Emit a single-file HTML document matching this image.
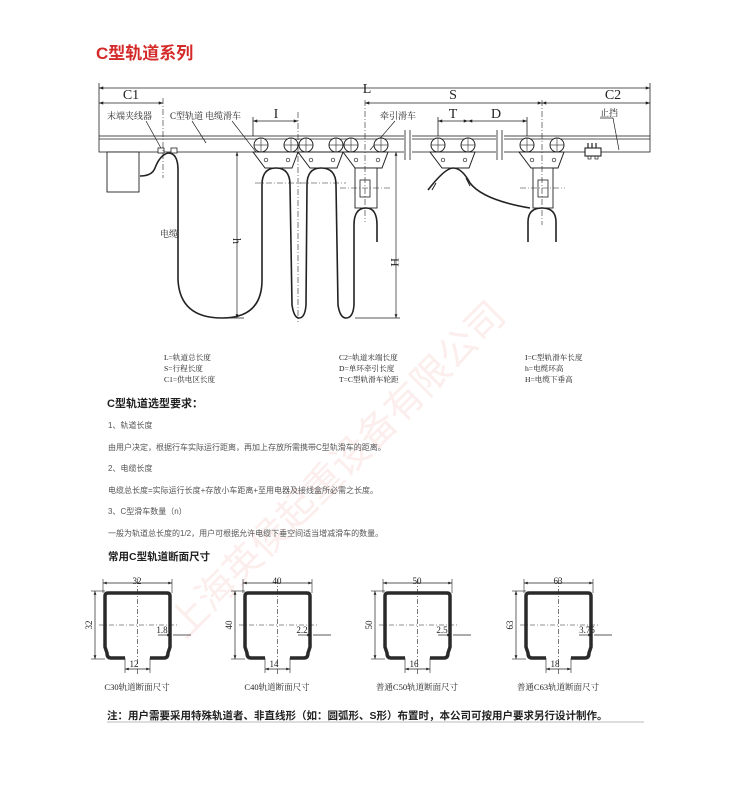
<!DOCTYPE html>
<html><head><meta charset="utf-8"><style>
html,body{margin:0;padding:0;background:#fff}
svg{display:block}
.t{font-family:"Liberation Serif","Noto Serif CJK SC",serif;fill:#222}
.s{font-family:"Liberation Sans","Noto Sans CJK SC",sans-serif}
</style></head><body>
<svg width="750" height="810" viewBox="0 0 750 810" xmlns="http://www.w3.org/2000/svg">
<defs>
<marker id="a" viewBox="0 0 8 6" refX="8" refY="3" markerWidth="6" markerHeight="4" orient="auto-start-reverse"><path d="M0,0 L8,3 L0,6z" fill="#222"/></marker>
<g id="tr">
<path d="M0,152 L45,152 L39,168 L12,168 Z" fill="#fff" stroke="#222" stroke-width="1"/>
<circle cx="8" cy="145" r="7" fill="#fff" stroke="#222"/><circle cx="38" cy="145" r="7" fill="#fff" stroke="#222"/>
<line x1="8" y1="138" x2="8" y2="152" stroke="#222" stroke-width=".6"/><line x1="1" y1="145" x2="15" y2="145" stroke="#222" stroke-width=".6"/>
<line x1="38" y1="138" x2="38" y2="152" stroke="#222" stroke-width=".6"/><line x1="31" y1="145" x2="45" y2="145" stroke="#222" stroke-width=".6"/>
<circle cx="13" cy="160" r="1.8" fill="none" stroke="#222" stroke-width=".7"/><circle cx="35" cy="160" r="1.8" fill="none" stroke="#222" stroke-width=".7"/>
</g>
<g id="pf">
<path d="M22,67 L8,67 Q4,67 4,62 L2,56 L2,5 Q2,2 5,2 L64,2 Q67,2 67,5 L67,56 L65,62 Q65,67 61,67 L47,67" fill="none" stroke="#2a2a2a" stroke-width="3.5"/>
<line x1="0" y1="-8" x2="69" y2="-8" stroke="#222" stroke-width=".7" marker-start="url(#a)" marker-end="url(#a)"/>
<line x1="0" y1="-12" x2="0" y2="2" stroke="#222" stroke-width=".6"/><line x1="69" y1="-12" x2="69" y2="2" stroke="#222" stroke-width=".6"/>
<line x1="-8" y1="0" x2="-8" y2="68" stroke="#222" stroke-width=".7" marker-start="url(#a)" marker-end="url(#a)"/>
<line x1="-12" y1="0" x2="2" y2="0" stroke="#222" stroke-width=".6"/><line x1="-12" y1="68" x2="2" y2="68" stroke="#222" stroke-width=".6"/>
<line x1="34.5" y1="-12" x2="34.5" y2="84" stroke="#222" stroke-width=".6" stroke-dasharray="5,2,1,2"/>
<line x1="-4" y1="34" x2="76" y2="34" stroke="#222" stroke-width=".6" stroke-dasharray="5,2,1,2"/>
<line x1="22" y1="67" x2="22" y2="82" stroke="#222" stroke-width=".6"/><line x1="47" y1="67" x2="47" y2="82" stroke="#222" stroke-width=".6"/>
<line x1="22" y1="78" x2="47" y2="78" stroke="#222" stroke-width=".7" marker-start="url(#a)" marker-end="url(#a)"/>
<line x1="55" y1="44" x2="68" y2="44" stroke="#222" stroke-width=".7" marker-end="url(#a)"/>
<line x1="70" y1="44" x2="88" y2="44" stroke="#222" stroke-width=".7"/>
</g>
</defs>

<text x="96" y="59" class="s" font-size="17" font-weight="bold" fill="#d42a2a">C型轨道系列</text>

<!-- watermark -->
<text x="0" y="0" transform="translate(185,640) rotate(-45)" class="s" font-size="38" fill="#fbeeec">上海英侯起重设备有限公司</text>

<g stroke="#222" stroke-width=".8" fill="none">
<line x1="99" y1="88" x2="650" y2="88" marker-start="url(#a)" marker-end="url(#a)"/>
<line x1="99" y1="83" x2="99" y2="136"/><line x1="650" y1="83" x2="650" y2="136"/>
<line x1="99" y1="103" x2="163" y2="103" marker-start="url(#a)" marker-end="url(#a)"/>
<line x1="365" y1="103" x2="542" y2="103" marker-start="url(#a)" marker-end="url(#a)"/>
<line x1="542" y1="103" x2="650" y2="103" marker-start="url(#a)" marker-end="url(#a)"/>
<line x1="253" y1="121" x2="298" y2="121" marker-start="url(#a)" marker-end="url(#a)"/>
<line x1="253" y1="117" x2="253" y2="150"/>
<line x1="438" y1="121" x2="468" y2="121" marker-start="url(#a)" marker-end="url(#a)"/>
<line x1="468" y1="121" x2="527" y2="121" marker-start="url(#a)" marker-end="url(#a)"/>
<line x1="438" y1="117" x2="438" y2="140"/><line x1="527" y1="117" x2="527" y2="140"/>
<!-- track -->
<rect x="99" y="136" width="551" height="16" fill="#fff"/>
<line x1="99" y1="139" x2="650" y2="139"/>
</g>
<!-- breaks -->
<rect x="404" y="130" width="8" height="30" fill="#fff"/><rect x="496" y="130" width="8" height="30" fill="#fff"/>
<g stroke="#222" stroke-width=".8">
<line x1="405" y1="130" x2="405" y2="160"/><line x1="410" y1="130" x2="410" y2="160"/>
<line x1="497" y1="130" x2="497" y2="160"/><line x1="502" y1="130" x2="502" y2="160"/>
</g>

<g class="t" font-size="14" text-anchor="middle">
<text x="131" y="99">C1</text><text x="367" y="93">L</text><text x="453" y="99">S</text><text x="613" y="99">C2</text>
<text x="276" y="118">I</text><text x="453" y="118">T</text><text x="496" y="118">D</text>
</g>
<g class="t" font-size="9">
<text x="107" y="119">末端夹线器</text><text x="170" y="119">C型轨道</text><text x="205" y="119">电缆滑车</text>
<text x="380" y="119">牵引滑车</text><text x="600" y="116">止挡</text>
<text x="110" y="175">配电箱</text><text x="160" y="237">电缆</text>
</g>
<g stroke="#222" stroke-width=".7" fill="none">
<line x1="146" y1="121" x2="162" y2="150"/><line x1="192" y1="121" x2="206" y2="143"/>
<line x1="232" y1="121" x2="256" y2="152"/><line x1="395" y1="121" x2="370" y2="150"/>
<path d="M600,118 L613,118 L619,150"/>
</g>

<!-- distribution box -->
<rect x="107" y="152" width="32" height="40" fill="#fff" stroke="#222" stroke-width=".9"/>
<rect x="158" y="148" width="6" height="5" fill="#fff" stroke="#222" stroke-width=".8"/>
<rect x="171" y="148" width="6" height="5" fill="#fff" stroke="#222" stroke-width=".8"/>
<!-- stop -->
<rect x="585" y="148" width="16" height="8" fill="#fff" stroke="#222" stroke-width="1.1"/>
<g stroke="#222" stroke-width="1.2"><line x1="588" y1="143" x2="588" y2="148"/><line x1="592" y1="143" x2="592" y2="148"/><line x1="596" y1="143" x2="596" y2="148"/></g>
<rect x="588" y="156" width="3" height="3" fill="none" stroke="#222" stroke-width=".7"/><rect x="595" y="156" width="3" height="3" fill="none" stroke="#222" stroke-width=".7"/>

<use href="#tr" x="253"/><use href="#tr" x="298"/><use href="#tr" x="343"/><use href="#tr" x="430"/><use href="#tr" x="519"/>
<!-- hangers -->
<rect x="355" y="168" width="22" height="40" fill="#fff" stroke="#222" stroke-width=".9"/>
<rect x="360" y="180" width="10" height="17" fill="none" stroke="#222" stroke-width=".8"/>
<rect x="533" y="168" width="20" height="40" fill="#fff" stroke="#222" stroke-width=".9"/>
<rect x="538" y="180" width="10" height="17" fill="none" stroke="#222" stroke-width=".8"/>

<!-- cables -->
<g stroke="#222" stroke-width="1.6" fill="none">
<path d="M140,176 Q152,176 155,168 Q160,155 168,153 Q178,153 178,170 L178,280 Q180,318 222,318 Q262,318 262,280 L262,185 Q262,168 276,168 Q290,168 290,185 L292,305 Q294,318 299,318 Q305,318 306,305 L307,185 Q307,168 321,168 Q336,168 336,185 L338,305 Q340,318 346,318 Q353,318 354,305 L354,225 Q354,208 366,208 Q377,208 377,225 L377,242"/>
<path d="M428,190 Q445,168 453,168 Q462,168 470,183 Q483,200 530,208"/>
<path d="M528,242 L528,222 Q528,208 542,208 Q556,208 556,222 L556,242"/>
<path d="M436,183 L432,190" stroke-width="1"/><path d="M466,178 L470,186" stroke-width="1"/>
</g>
<!-- centers & dims -->
<g stroke="#222" stroke-width=".6" fill="none" stroke-dasharray="6,2,1,2">
<line x1="298" y1="112" x2="298" y2="322"/><line x1="365" y1="100" x2="365" y2="222"/>
<line x1="542" y1="100" x2="542" y2="225"/><line x1="163" y1="98" x2="163" y2="178"/>
<line x1="340" y1="188" x2="392" y2="188"/><line x1="520" y1="188" x2="565" y2="188"/>
<line x1="255" y1="183" x2="301" y2="183"/><line x1="300" y1="183" x2="346" y2="183"/>
</g>
<g stroke="#222" stroke-width=".7">
<line x1="237" y1="152" x2="237" y2="318" marker-start="url(#a)" marker-end="url(#a)"/>
<line x1="396" y1="152" x2="396" y2="318" marker-start="url(#a)" marker-end="url(#a)"/>
<line x1="225" y1="318" x2="244" y2="318"/><line x1="355" y1="318" x2="400" y2="318"/>
</g>
<text x="0" y="0" transform="translate(233,238) rotate(90)" class="t" font-size="12">h</text>
<text x="0" y="0" transform="translate(391,258) rotate(90)" class="t" font-size="12">H</text>

<!-- legend -->
<g class="t" font-size="7.6" fill="#333">
<text x="164" y="360">L=轨道总长度</text><text x="164" y="371">S=行程长度</text><text x="164" y="382">C1=供电区长度</text>
<text x="339" y="360">C2=轨道末端长度</text><text x="339" y="371">D=单环牵引长度</text><text x="339" y="382">T=C型轨滑车轮距</text>
<text x="525" y="360">I=C型轨滑车长度</text><text x="525" y="371">h=电缆环高</text><text x="525" y="382">H=电缆下垂高</text>
</g>
<text x="107" y="407" class="s" font-size="11" font-weight="bold" fill="#222">C型轨道选型要求：</text>
<g class="s" font-size="8" fill="#555">
<text x="108" y="428">1、轨道长度</text>
<text x="108" y="450">由用户决定，根据行车实际运行距离，再加上存放所需携带C型轨滑车的距离。</text>
<text x="108" y="471">2、电缆长度</text>
<text x="108" y="493">电缆总长度=实际运行长度+存放小车距离+至用电器及接线盒所必需之长度。</text>
<text x="108" y="514">3、C型滑车数量（n）</text>
<text x="108" y="536">一般为轨道总长度的1/2，用户可根据允许电缆下垂空间适当增减滑车的数量。</text>
</g>
<text x="108" y="560" class="s" font-size="10.5" font-weight="bold" fill="#222">常用C型轨道断面尺寸</text>

<use href="#pf" x="103" y="591"/><use href="#pf" x="243" y="591"/><use href="#pf" x="383" y="591"/><use href="#pf" x="524" y="591"/>
<g class="t" font-size="9" text-anchor="middle">
<text x="137" y="584">32</text><text x="277" y="584">40</text><text x="417" y="584">50</text><text x="558" y="584">63</text>
<text x="134" y="667">12</text><text x="274" y="667">14</text><text x="414" y="667">16</text><text x="555" y="667">18</text>
<text x="162" y="633">1.8</text><text x="302" y="633">2.2</text><text x="442" y="633">2.5</text><text x="587" y="633">3.75</text>
<text x="137" y="690" font-size="8.5">C30轨道断面尺寸</text><text x="277" y="690" font-size="8.5">C40轨道断面尺寸</text>
<text x="417" y="690" font-size="8.5">普通C50轨道断面尺寸</text><text x="558" y="690" font-size="8.5">普通C63轨道断面尺寸</text>
</g>
<g class="t" font-size="9">
<text transform="translate(92,625) rotate(-90)" text-anchor="middle">32</text>
<text transform="translate(232,625) rotate(-90)" text-anchor="middle">40</text>
<text transform="translate(372,625) rotate(-90)" text-anchor="middle">50</text>
<text transform="translate(513,625) rotate(-90)" text-anchor="middle">63</text>
</g>
<text x="107" y="719" class="s" font-size="10.5" font-weight="bold" fill="#222">注：用户需要采用特殊轨道者、非直线形（如：圆弧形、S形）布置时，本公司可按用户要求另行设计制作。</text>
<line x1="107" y1="722" x2="644" y2="722" stroke="#bbb" stroke-width="1"/>
</svg>
</body></html>
